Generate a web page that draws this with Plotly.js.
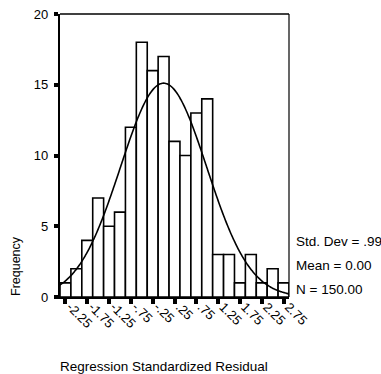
<!DOCTYPE html>
<html>
<head>
<meta charset="utf-8">
<script src="https://cdn.plot.ly/plotly-3.0.1.min.js"></script>
<style>html,body{margin:0;padding:0;background:#fff;}#chart{width:381px;height:374px;}</style>
</head>
<body>
<div id="chart"></div>
<script>
// ---- data ----
const binCenters = [-2.25, -2.0, -1.75, -1.5, -1.25, -1.0, -0.75, -0.5, -0.25, 0.0, 0.25,
                    0.5, 0.75, 1.0, 1.25, 1.5, 1.75, 2.0, 2.25, 2.5, 2.75];
const frequencies = [1, 2, 4, 7, 5, 6, 12, 18, 16, 17, 11, 10, 13, 14, 3, 3, 1, 3, 1, 2, 1];
const xTickValues = [-2.25, -1.75, -1.25, -0.75, -0.25, 0.25, 0.75, 1.25, 1.75, 2.25, 2.75];
const xTickLabels = ['-2.25', '-1.75', '-1.25', '-.75', '-.25', '.25', '.75', '1.25', '1.75', '2.25', '2.75'];
const yTickValues = [0, 5, 10, 15, 20];
const yTickLabels = ['0', '5', '10', '15', '20'];
const statLabels = ['Std. Dev = .99', 'Mean = 0.00', 'N = 150.00'];
const stdDev = 0.99;
const mean = 0.0;
const nCases = 150;
const binWidth = 0.25;

// ---- layout geometry ----
const W = 381, H = 374;
const M = {l: 60, r: 92, t: 14, b: 77};
const PW = W - M.l - M.r, PH = H - M.t - M.b;
const xRange = [binCenters[0] - binWidth / 2, binCenters[binCenters.length - 1] + binWidth / 2];
const yRange = [0, 20];
const px2paperX = p => (p - M.l) / PW;
const px2paperY = p => (H - M.b - p) / PH;

// fitted normal curve from the chart's stated mean / sd / N
const curveX = [], curveY = [];
const steps = 210;
for (let i = 0; i <= steps; i++) {
  const x = xRange[0] + (xRange[1] - xRange[0]) * i / steps;
  const z = (x - mean) / stdDev;
  curveX.push(x);
  curveY.push(nCases * binWidth * Math.exp(-0.5 * z * z) / (stdDev * Math.sqrt(2 * Math.PI)));
}

const FONT = 'Arial, "Liberation Sans", sans-serif';

const traces = [
  {
    type: 'bar', x: binCenters, y: frequencies, width: binWidth,
    marker: {color: '#ffffff', line: {color: '#000000', width: 1.6}},
    hoverinfo: 'skip', showlegend: false
  },
  {
    type: 'scatter', mode: 'lines', x: curveX, y: curveY,
    line: {color: '#000000', width: 1.6, shape: 'spline'},
    hoverinfo: 'skip', showlegend: false
  }
];

const annotations = [
  {
    text: 'Frequency', textangle: -90, xref: 'paper', yref: 'paper',
    x: px2paperX(16), y: px2paperY(266), xanchor: 'center', yanchor: 'middle',
    showarrow: false, font: {family: FONT, size: 12.5, color: '#000'}
  },
  {
    text: 'Regression Standardized Residual', xref: 'paper', yref: 'paper',
    x: px2paperX(58), y: px2paperY(366), xanchor: 'left', yanchor: 'middle',
    showarrow: false, font: {family: FONT, size: 13.5, color: '#000'}
  }
];
const statY = [241, 265.5, 289];
statLabels.forEach((t, i) => annotations.push({
  text: t, xref: 'paper', yref: 'paper', x: px2paperX(294), y: px2paperY(statY[i]),
  xanchor: 'left', yanchor: 'middle', showarrow: false,
  font: {family: FONT, size: 13.5, color: '#000'}
}));

const layout = {
  width: W, height: H,
  margin: M,
  paper_bgcolor: '#fff', plot_bgcolor: '#fff',
  font: {family: FONT, size: 13, color: '#000'},
  bargap: 0,
  xaxis: {
    range: xRange, showgrid: false, zeroline: false,
    showline: true, linecolor: '#000', linewidth: 2.2,
    tickmode: 'array', tickvals: xTickValues, ticktext: xTickLabels,
    ticks: 'outside', ticklen: 5, tickwidth: 4, tickcolor: '#000', tickangle: 45,
    ticklabelshift: 5, ticklabelstandoff: -10,
    tickfont: {family: FONT, size: 13, color: '#000'}
  },
  yaxis: {
    range: yRange, showgrid: false, zeroline: false,
    showline: true, linecolor: '#000', linewidth: 2.2,
    tickmode: 'array', tickvals: yTickValues, ticktext: yTickLabels,
    ticks: 'outside', ticklen: 4, tickwidth: 4, tickcolor: '#000',
    ticklabelstandoff: 3,
    tickfont: {family: FONT, size: 13, color: '#000'}
  },
  shapes: [
    {type: 'line', xref: 'paper', yref: 'paper', x0: 0, x1: 1, y0: 1, y1: 1, line: {color: '#000', width: 1.4}},
    {type: 'line', xref: 'paper', yref: 'paper', x0: 1, x1: 1, y0: 0, y1: 1, line: {color: '#000', width: 1.2}}
  ],
  annotations: annotations
};

Plotly.newPlot('chart', traces, layout, {displayModeBar: false, staticPlot: true});
</script>
</body>
</html>
